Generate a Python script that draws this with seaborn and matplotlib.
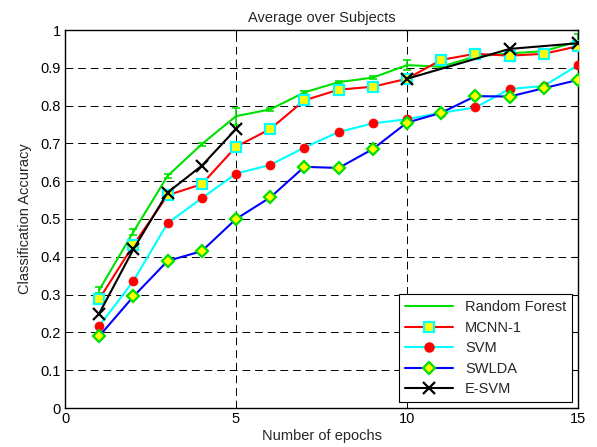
import numpy as np
import pandas as pd
import matplotlib
matplotlib.use("Agg")
import matplotlib.pyplot as plt
import seaborn as sns
from matplotlib.lines import Line2D

# ---- data ----
epochs = list(range(1, 16))
rf = [0.312, 0.466, 0.614, 0.698, 0.772, 0.790, 0.835, 0.862, 0.874, 0.907,
      0.903, 0.930, 0.938, 0.944, 0.970]
rf_err = [0.008, 0.008, 0.005, 0.004, 0.022, 0.004, 0.004, 0.004, 0.004, 0.014,
          0.004, 0.004, 0.004, 0.004, 0.019]
mcnn = [0.288, 0.431, 0.563, 0.592, 0.691, 0.738, 0.814, 0.842, 0.850, 0.871,
        0.921, 0.937, 0.932, 0.937, 0.957]
svm = [0.217, 0.336, 0.489, 0.555, 0.620, 0.643, 0.689, 0.730, 0.753, 0.764,
       0.781, 0.795, 0.844, 0.852, 0.907]
swlda = [0.190, 0.295, 0.389, 0.415, 0.500, 0.557, 0.638, 0.635, 0.685, 0.755,
         0.781, 0.825, 0.824, 0.846, 0.868]
esvm_epochs = [1, 2, 3, 4, 5, 10, 13, 15]
esvm = [0.250, 0.420, 0.570, 0.641, 0.738, 0.871, 0.950, 0.965]
esvm_segment = [0, 0, 0, 0, 0, 1, 1, 1]

labels = ["Random Forest", "MCNN-1", "SVM", "SWLDA", "E-SVM"]
x_ticks = [0, 5, 10, 15]
y_ticks = [0, 0.1, 0.2, 0.3, 0.4, 0.5, 0.6, 0.7, 0.8, 0.9, 1]
y_tick_labels = ["0", "0.1", "0.2", "0.3", "0.4", "0.5", "0.6", "0.7", "0.8", "0.9", "1"]

sns.set_style("white")
plt.rcParams["font.family"] = ["Liberation Sans", "DejaVu Sans"]

fig = plt.figure(figsize=(5.97, 4.47), dpi=100)
ax = fig.add_axes([65 / 597, 1 - 408 / 447, (578 - 65) / 597, (408 - 30) / 447])

lw = 1.5
# Random Forest (with error bars)
ax.errorbar(epochs, rf, yerr=rf_err, fmt="none", ecolor="#00e000",
            elinewidth=1.2, capsize=3, capthick=1.2, zorder=2)
sns.lineplot(x=epochs, y=rf, ax=ax, color="#00e000", lw=lw, zorder=2)
# MCNN-1
sns.lineplot(x=epochs, y=mcnn, ax=ax, color="red", lw=lw, marker="s",
             markersize=7, markerfacecolor="yellow", markeredgecolor="cyan",
             markeredgewidth=1.6, zorder=3)
# SVM
sns.lineplot(x=epochs, y=svm, ax=ax, color="cyan", lw=lw, marker="o",
             markersize=6.5, markerfacecolor="red", markeredgecolor="red",
             markeredgewidth=0.5, zorder=4)
# SWLDA
sns.lineplot(x=epochs, y=swlda, ax=ax, color="blue", lw=lw, marker="D",
             markersize=6, markerfacecolor="yellow", markeredgecolor="#00e000",
             markeredgewidth=1.6, zorder=5)
# E-SVM (gap between 5 and 10)
df_e = pd.DataFrame({"x": esvm_epochs, "y": esvm, "seg": esvm_segment})
for seg, sub in df_e.groupby("seg"):
    sns.lineplot(data=sub, x="x", y="y", ax=ax, color="black", lw=lw,
                 marker="x", markersize=8, markeredgecolor="black",
                 markeredgewidth=1.6, zorder=6)

ax.set_xlim(0, 15)
ax.set_ylim(0, 1)
ax.set_xticks(x_ticks)
ax.set_xticklabels([str(t) for t in x_ticks])
ax.set_yticks(y_ticks)
ax.set_yticklabels(y_tick_labels)
ax.grid(True, color="black", linestyle=(0, (8, 5)), linewidth=0.7)
ax.tick_params(direction="in", length=4, width=0.8, top=True, right=True,
               labelsize=10.5, colors="black", pad=3)
for s in ax.spines.values():
    s.set_visible(True)
    s.set_color("black")
    s.set_linewidth(1.0)

ax.set_xlabel("Number of epochs", fontsize=10.5, labelpad=2)
ax.set_ylabel("Classification Accuracy", fontsize=10.5, labelpad=6)
ax.set_title("Average over Subjects", fontsize=10.5, pad=6)

handles = [
    Line2D([], [], color="#00e000", lw=lw),
    Line2D([], [], color="red", lw=lw, marker="s", markersize=7,
           markerfacecolor="yellow", markeredgecolor="cyan", markeredgewidth=1.6),
    Line2D([], [], color="cyan", lw=lw, marker="o", markersize=6.5,
           markerfacecolor="red", markeredgecolor="red"),
    Line2D([], [], color="blue", lw=lw, marker="D", markersize=6,
           markerfacecolor="yellow", markeredgecolor="#00e000", markeredgewidth=1.6),
    Line2D([], [], color="black", lw=lw, marker="x", markersize=8,
           markeredgewidth=1.6),
]
leg = ax.legend(handles, labels, loc="lower right", fontsize=10.5,
                handlelength=3.3, fancybox=False, framealpha=1,
                edgecolor="black", borderaxespad=0.4, labelspacing=0.45,
                borderpad=0.4)
leg.get_frame().set_linewidth(0.8)
leg.set_zorder(10)

fig.savefig("out.png", dpi=100)
